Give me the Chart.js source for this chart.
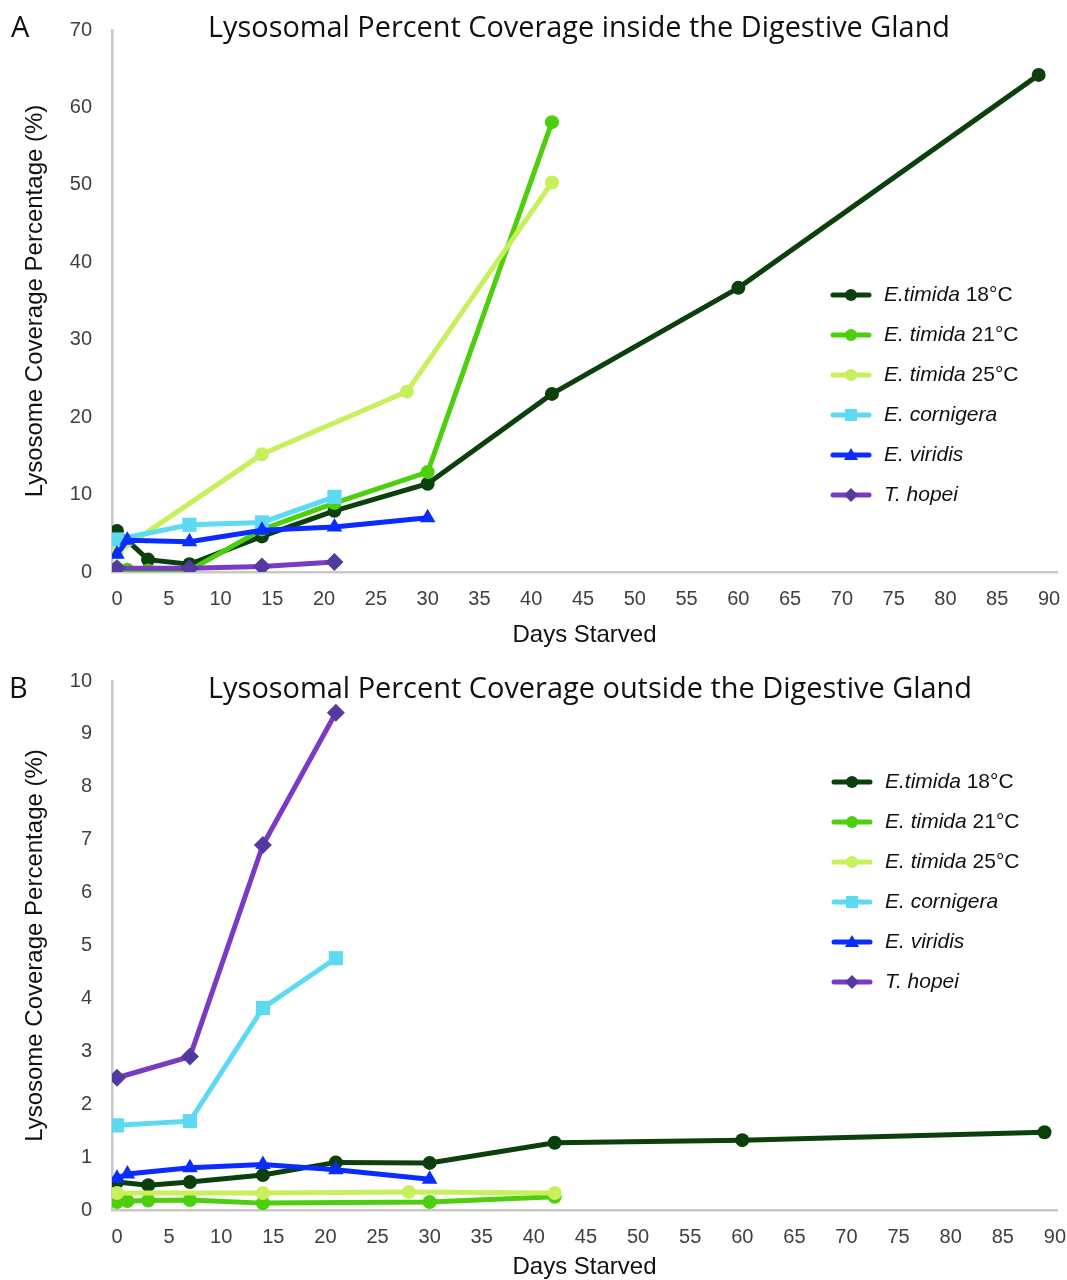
<!DOCTYPE html>
<html>
<head>
<meta charset="utf-8">
<script src="https://cdn.jsdelivr.net/npm/chart.js@4/dist/chart.umd.min.js"></script>
<style>
  html, body { margin: 0; padding: 0; background: #fff; }
  .panel { position: absolute; left: 0; }
  #panelA { top: 0; }
  #panelB { top: 650px; }
</style>
</head>
<body>
<div class="panel" id="panelA"><canvas id="chartA" width="1067" height="650"></canvas></div>
<div class="panel" id="panelB"><canvas id="chartB" width="1067" height="630"></canvas></div>
<script>
// days starved for each series
const daysT18 = [0, 3, 7, 14, 21, 30, 42, 60, 89];
const daysT21In = [0, 1, 3, 7, 14, 21, 30, 42];
const daysT21Out = [0, 1, 3, 7, 14, 30, 42];
const daysT25 = [0, 14, 28, 42];
const daysCorn = [0, 7, 14, 21];
const daysViri = [0, 1, 7, 14, 21, 30];
const daysHopei = [0, 7, 14, 21];

// panel A: inside the digestive gland (%)
const insideT18 = [5.3, 1.6, 1.0, 4.6, 7.9, 11.4, 23.0, 36.7, 64.2];
const insideT21 = [0.5, 0.3, 0.2, 0.2, 5.5, 8.9, 12.9, 58.1];
const insideT25 = [2.5, 15.2, 23.3, 50.3];
const insideCorn = [4.2, 6.1, 6.4, 9.7];
const insideViri = [2.3, 4.1, 3.9, 5.4, 5.8, 7.0];
const insideHopei = [0.5, 0.5, 0.7, 1.3];

// panel B: outside the digestive gland (%)
const outsideT18 = [0.53, 0.47, 0.53, 0.66, 0.9, 0.89, 1.27, 1.32, 1.47];
const outsideT21 = [0.15, 0.17, 0.18, 0.19, 0.13, 0.15, 0.25];
const outsideT25 = [0.32, 0.32, 0.34, 0.32];
const outsideCorn = [1.6, 1.68, 3.82, 4.76];
const outsideViri = [0.6, 0.68, 0.8, 0.86, 0.76, 0.58];
const outsideHopei = [2.5, 2.9, 6.9, 9.4];

// legend names: italic species part + plain temperature part
const seriesNames = [
    ['E.timida', ' 18°C'],
    ['E. timida', ' 21°C'],
    ['E. timida', ' 25°C'],
    ['E. cornigera', ''],
    ['E. viridis', ''],
    ['T. hopei', '']
];
const xTicks = [0, 5, 10, 15, 20, 25, 30, 35, 40, 45, 50, 55, 60, 65, 70, 75, 80, 85, 90];
const yTicksA = [0, 10, 20, 30, 40, 50, 60, 70];
const yTicksB = [0, 1, 2, 3, 4, 5, 6, 7, 8, 9, 10];

const lineColors = ['#0b3f0b', '#4ccf0c', '#c8f05c', '#5cdaf2', '#0a2cff', '#7a3ac6'];
const markColors = ['#0b3f0b', '#4ccf0c', '#c8f05c', '#5cdaf2', '#0a2cff', '#523a9e'];
const markStyles = ['circle', 'circle', 'circle', 'rect', 'triangle', 'rectRot'];
const markRadius = [7, 7, 7, 10, 9, 9];

function toPoints(days, vals) {
    return days.map((d, i) => ({ x: d, y: vals[i] }));
}

// draws panel letter, title and the legend (mixed italic / plain)
const panelDeco = {
    id: 'panelDeco',
    afterDraw(chart, args, opts) {
        const ctx = chart.ctx;
        ctx.save();
        ctx.fillStyle = '#111';
        ctx.textBaseline = 'alphabetic';
        ctx.font = '29px "Open Sans", "Liberation Sans", sans-serif';
        ctx.textAlign = 'left';
        ctx.fillText(opts.letter, opts.letterX, opts.titleY, 20);
        ctx.fillText(opts.title, 208, opts.titleY, opts.titleW);

        chart.data.datasets.forEach((ds, i) => {
            const y = opts.legendY + i * 40;
            const x0 = opts.legendX;
            ctx.strokeStyle = ds.borderColor;
            ctx.lineWidth = 5;
            ctx.lineCap = 'round';
            ctx.beginPath();
            ctx.moveTo(x0, y);
            ctx.lineTo(x0 + 36, y);
            ctx.stroke();
            ctx.fillStyle = ds.pointBackgroundColor;
            ctx.beginPath();
            const mx = x0 + 18;
            const st = ds.pointStyle;
            if (st === 'circle') {
                ctx.arc(mx, y, 6, 0, Math.PI * 2);
            } else if (st === 'rect') {
                ctx.rect(mx - 6, y - 6, 12, 12);
            } else if (st === 'triangle') {
                ctx.moveTo(mx, y - 7);
                ctx.lineTo(mx + 7, y + 5);
                ctx.lineTo(mx - 7, y + 5);
                ctx.closePath();
            } else {
                ctx.moveTo(mx, y - 7);
                ctx.lineTo(mx + 7, y);
                ctx.lineTo(mx, y + 7);
                ctx.lineTo(mx - 7, y);
                ctx.closePath();
            }
            ctx.fill();

            const name = seriesNames[i];
            ctx.fillStyle = '#111';
            ctx.textBaseline = 'middle';
            ctx.font = 'italic 21px "Liberation Sans", Arial, sans-serif';
            ctx.fillText(name[0], x0 + 51, y);
            const w = ctx.measureText(name[0]).width;
            ctx.font = '21px "Liberation Sans", Arial, sans-serif';
            ctx.fillText(name[1], x0 + 51 + w, y);
        });
        ctx.restore();
    }
};

function makeChart(canvasId, seriesDays, seriesVals, cfg) {
    const datasets = seriesVals.map((vals, i) => ({
        label: seriesNames[i].join(''),
        data: toPoints(seriesDays[i], vals),
        borderColor: lineColors[i],
        backgroundColor: lineColors[i],
        pointBackgroundColor: markColors[i],
        pointBorderColor: markColors[i],
        pointStyle: markStyles[i],
        pointRadius: markRadius[i],
        pointBorderWidth: 0,
        borderWidth: 5,
        tension: 0,
        fill: false,
        order: seriesVals.length - i
    }));

    const tickFont = { family: '"Liberation Sans", Arial, sans-serif', size: 20 };
    const titleFont = { family: '"Liberation Sans", Arial, sans-serif', size: 24 };

    return new Chart(document.getElementById(canvasId), {
        type: 'line',
        data: { datasets: datasets },
        plugins: [panelDeco],
        options: {
            responsive: false,
            animation: false,
            devicePixelRatio: 1,
            layout: { padding: { top: cfg.top, right: 0, left: 0, bottom: 0 } },
            scales: {
                x: {
                    type: 'linear',
                    min: cfg.xMin,
                    max: cfg.xMax,
                    afterBuildTicks: scale => { scale.ticks = xTicks.map(v => ({ value: v })); },
                    afterFit: scale => {
                        scale.height = cfg.xAxisH;
                        scale.paddingLeft = 0;
                        scale.paddingRight = 0;
                    },
                    grid: { display: false },
                    border: { display: true, color: '#c8c8c8', width: 2.5 },
                    ticks: { font: tickFont, color: '#404040', padding: 7, maxRotation: 0, autoSkip: false },
                    title: { display: true, text: 'Days Starved', font: titleFont, color: '#111', padding: { top: 0, bottom: cfg.xTitlePad } }
                },
                y: {
                    min: 0,
                    max: cfg.yMax,
                    afterBuildTicks: scale => { scale.ticks = cfg.yTicks.map(v => ({ value: v })); },
                    afterFit: scale => {
                        scale.width = 112;
                        scale.paddingTop = 0;
                        scale.paddingBottom = 0;
                    },
                    grid: { display: false },
                    border: { display: true, color: '#c8c8c8', width: 2.5 },
                    ticks: { font: tickFont, color: '#404040', padding: 12 },
                    title: { display: true, text: 'Lysosome Coverage Percentage (%)', font: titleFont, color: '#111', padding: { top: 21, bottom: 0 } }
                }
            },
            plugins: {
                legend: { display: false },
                tooltip: { enabled: false },
                panelDeco: cfg.deco
            }
        }
    });
}

makeChart('chartA',
    [daysT18, daysT21In, daysT25, daysCorn, daysViri, daysHopei],
    [insideT18, insideT21, insideT25, insideCorn, insideViri, insideHopei],
    {
        top: 30, xMin: -0.48, xMax: 90.77, xAxisH: 78, xTitlePad: 0,
        yMax: 70, yTicks: yTicksA,
        deco: { letter: 'A', letterX: 11, title: 'Lysosomal Percent Coverage inside the Digestive Gland', titleY: 37, titleW: 742, legendX: 833, legendY: 295 }
    });

makeChart('chartB',
    [daysT18, daysT21Out, daysT25, daysCorn, daysViri, daysHopei],
    [outsideT18, outsideT21, outsideT25, outsideCorn, outsideViri, outsideHopei],
    {
        top: 31, xMin: -0.48, xMax: 90.2, xAxisH: 70, xTitlePad: -2,
        yMax: 10, yTicks: yTicksB,
        deco: { letter: 'B', letterX: 9, title: 'Lysosomal Percent Coverage outside the Digestive Gland', titleY: 48, titleW: 764, legendX: 834, legendY: 132 }
    });
</script>
</body>
</html>
